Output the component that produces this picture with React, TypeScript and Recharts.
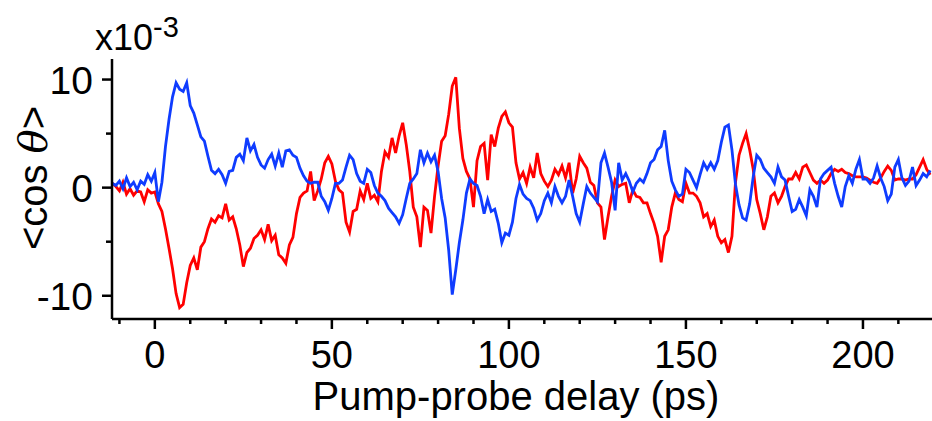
import { Customized, Label, Line, LineChart, XAxis, YAxis } from "recharts";

// pump-probe delay (ps)
const delay = [
  -12, -11, -10, -9, -8, -7, -6, -5, -4, -3,
  -2, -1, 0, 1, 2, 3, 4, 5, 6, 7,
  8, 9, 10, 11, 12, 13, 14, 15, 16, 17,
  18, 19, 20, 21, 22, 23, 24, 25, 26, 27,
  28, 29, 30, 31, 32, 33, 34, 35, 36, 37,
  38, 39, 40, 41, 42, 43, 44, 45, 46, 47,
  48, 49, 50, 51, 52, 53, 54, 55, 56, 57,
  58, 59, 60, 61, 62, 63, 64, 65, 66, 67,
  68, 69, 70, 71, 72, 73, 74, 75, 76, 77,
  78, 79, 80, 81, 82, 83, 84, 85, 86, 87,
  88, 89, 90, 91, 92, 93, 94, 95, 96, 97,
  98, 99, 100, 101, 102, 103, 104, 105, 106, 107,
  108, 109, 110, 111, 112, 113, 114, 115, 116, 117,
  118, 119, 120, 121, 122, 123, 124, 125, 126, 127,
  128, 129, 130, 131, 132, 133, 134, 135, 136, 137,
  138, 139, 140, 141, 142, 143, 144, 145, 146, 147,
  148, 149, 150, 151, 152, 153, 154, 155, 156, 157,
  158, 159, 160, 161, 162, 163, 164, 165, 166, 167,
  168, 169, 170, 171, 172, 173, 174, 175, 176, 177,
  178, 179, 180, 181, 182, 183, 184, 185, 186, 187,
  188, 189, 190, 191, 192, 193, 194, 195, 196, 197,
  198, 199, 200, 201, 202, 203, 204, 205, 206, 207,
  208, 209, 210, 211, 212, 213, 214, 215, 216, 217,
  218, 219,
];

// <cos θ> in units of 1e-3
const redTrace = [
  0.4, 0.1, -0.3, 0.5, -0.6, -0.1, -0.7, -0.3, -0.4, -1.3,
  -0.2, -0.5, -0.4, -1.5, -2.2, -3.8, -5.6, -7.5, -9.8, -11.1,
  -10.8, -8.8, -7.2, -6.5, -7.6, -5.5, -5.0, -3.8, -2.9, -3.2,
  -2.6, -2.8, -1.5, -3.0, -2.7, -3.8, -5.3, -7.3, -6.0, -5.6,
  -4.7, -4.4, -3.9, -4.8, -3.4, -4.9, -4.4, -6.2, -6.5, -7.0,
  -5.3, -4.6, -2.4, -0.9, -0.5, -0.3, 1.5, -1.2, -0.3, 0.8,
  2.3, 2.9, 2.2, 0.6, -0.2, -0.5, -3.2, -4.1, -2.2, -2.0,
  -0.3, -1.1, 0.4, -1.0, -0.7, -1.3, 1.5, 3.3, 2.8, 4.6,
  3.2, 4.8, 6.0, 4.0, 1.5, -1.8, -2.7, -5.5, -1.8, -2.1,
  -4.2, -0.8, 2.0, 4.3, 4.8, 6.8, 9.4, 10.2, 5.5, 2.7,
  1.5, 0.8, -1.8, 2.5, 3.8, 4.1, 0.7, 4.9, 3.8, 5.5,
  6.6, 7.0, 6.0, 5.6, 2.3, 0.8, 1.4, 0.4, 1.9, 0.9,
  3.2, 1.3, 0.6, 0.1, 0.7, 1.7, 1.2, 2.0, 0.9, 2.3,
  -0.5, 0.8, 2.9, 2.3, 1.8, 0.5, 0.2, -1.4, -1.8, -4.8,
  -2.7, -0.8, 0.7, 0.1, 0.3, 0.4, -1.4, -0.2, -0.8, -0.9,
  -1.4, -1.4, -2.4, -3.3, -4.5, -6.9, -4.5, -3.9, -1.8, -0.5,
  -1.1, -1.3, 0.4, -0.5, -0.5, -0.8, -1.4, -2.7, -2.4, -3.6,
  -3.0, -4.5, -5.1, -4.8, -6.0, -4.5, 0.5, 3.0, 4.1, 5.0,
  3.5, 1.7, -1.1, -2.4, -3.9, -2.7, -0.8, -0.5, -1.4, -0.8,
  0.1, 0.8, 0.8, 1.4, 0.8, 1.9, 2.1, 1.4, 0.7, 0.4,
  0.7, 0.4, 0.7, 1.3, 1.7, 1.5, 1.7, 1.4, 1.3, 1.1,
  1.0, 1.0, 1.0, 0.9, 0.7, 0.5, 0.4, 0.9, 1.5, 2.0,
  1.6, 0.7, 0.8, 0.8, 0.7, 0.8, 0.8, 1.2, 1.9, 2.6,
  1.7, 1.2,
];

const blueTrace = [
  0.4, 0.2, 0.6, -0.1, 0.9, 0.1, 0.5, -0.2, 0.6, 0.3,
  1.2, 0.6, 1.4, -1.3, 0.5, 3.8, 6.3, 8.4, 9.7, 9.1,
  8.9, 9.7, 7.6, 6.9, 5.8, 4.7, 4.3, 2.9, 1.6, 1.3,
  1.7, 1.2, 0.4, 1.5, 1.6, 2.8, 3.1, 2.5, 4.6, 3.4,
  4.0, 2.8, 2.1, 1.8, 2.6, 3.1, 2.0, 3.2, 1.9, 3.4,
  3.5, 3.0, 2.8, 1.8, 1.1, 0.6, 0.4, 0.5, 0.5, -0.8,
  -1.3, -2.1, -1.0, 0.4, 0.4, 0.7, 1.9, 3.0, 2.6, 1.3,
  0.6, 0.4, 1.7, 1.4, 0.2, -0.5, -0.8, -1.2, -1.9, -2.3,
  -2.7, -3.3, -2.5, -1.0, 0.4, 0.8, 1.3, 3.5, 2.3, 3.2,
  2.4, 3.0, 1.5, -1.0, -2.8, -5.8, -9.9, -7.6, -5.1, -3.0,
  -0.5, 0.8, 0.4, 0.2, -0.8, -2.4, -1.1, -2.2, -2.0, -3.3,
  -5.1, -4.2, -4.4, -3.2, -1.0, 0.3, -0.6, -1.0, -1.2, -1.9,
  -3.0, -2.4, -1.2, -0.5, -1.4, 0.1, -0.8, -1.4, -0.8, 0.7,
  -0.8, -2.4, -3.2, -1.5, 0.1, -0.5, -0.9, -1.3, 2.3, 3.2,
  1.9, 0.5, -2.1, 2.3, 0.7, 1.3, 0.6, -0.4, 0.4, 0.8,
  0.5, 1.3, 2.3, 2.6, 3.5, 3.8, 5.3, 2.5, 0.6, -0.2,
  -0.8, -0.6, 1.7, 1.4, 0.7, 0.0, 1.2, 2.3, 1.7, 2.3,
  1.7, 2.5, 4.2, 5.6, 5.8, 3.5, 0.3, -1.6, -2.8, -3.0,
  -1.5, 1.0, 3.0, 2.6, 1.8, 1.4, 1.0, 0.4, 1.9, 1.0,
  0.7, -0.8, -2.2, -2.0, -1.1, -1.8, -2.6, -0.2, -0.8, -1.8,
  0.8, 1.3, 1.6, 1.9, 0.4, -0.8, -1.8, 0.1, 1.1, 0.4,
  1.7, 2.6, 0.8, 0.8, 0.4, 0.9, 2.0, 0.9, 0.1, -1.2,
  -0.6, 1.9, 2.6, 0.9, 0.2, 0.6, 1.9, 0.2, 0.7, 1.3,
  1.0, 1.6,
];

const xTicks = [-10, 0, 10, 20, 30, 40, 50, 60, 70, 80, 90, 100, 110, 120, 130, 140, 150, 160, 170, 180, 190, 200, 210];
const xLabeled = [0, 50, 100, 150, 200];
const yTicks = [-10, -5, 0, 5, 10];
const yLabeled = [-10, 0, 10];

const data = delay.map((t, i) => ({ t, red: redTrace[i], blue: blueTrace[i] }));

const FONT = "'Liberation Sans', Arial, sans-serif";
const INK = "#000";

function XTick(props: any) {
  const { x, y, payload } = props;
  const major = xLabeled.includes(payload.value);
  return (
    <g>
      <line x1={x} x2={x} y1={y} y2={y + (major ? 10 : 5)} stroke={INK} strokeWidth={2.5} />
      {major && (
        <text x={x} y={y + 49} textAnchor="middle" fontSize={38} fontFamily={FONT} fill={INK}>
          {payload.value}
        </text>
      )}
    </g>
  );
}

function YTick(props: any) {
  const { x, y, payload } = props;
  const major = yLabeled.includes(payload.value);
  return (
    <g>
      <line x1={x} x2={x - (major ? 10 : 6)} y1={y} y2={y} stroke={INK} strokeWidth={2.5} />
      {major && (
        <text x={x - 19} y={y + 14} textAnchor="end" fontSize={39} fontFamily={FONT} fill={INK}>
          {payload.value}
        </text>
      )}
    </g>
  );
}

function Multiplier() {
  return (
    <text x={95} y={50} fontSize={36} fontFamily={FONT} fill={INK}>
      x10
      <tspan fontSize={29} dy={-13}>-3</tspan>
    </text>
  );
}

export default function App() {
  return (
    <div style={{ position: "absolute", left: 0, top: 0, background: "#fff" }}>
      <LineChart width={932} height={421} data={data} margin={{ top: 59, right: 0, bottom: 0, left: 0 }}>
        <XAxis
          dataKey="t"
          type="number"
          domain={[-12.1, 219.5]}
          ticks={xTicks}
          interval={0}
          allowDataOverflow
          height={102}
          tickSize={0}
          tickMargin={0}
          tickLine={false}
          axisLine={{ stroke: INK, strokeWidth: 2.5 }}
          tick={XTick}
        >
          <Label
            content={() => (
              <text x={516} y={410} textAnchor="middle" fontSize={40} fontFamily={FONT} fill={INK}>
                Pump-probe delay (ps)
              </text>
            )}
          />
        </XAxis>
        <YAxis
          type="number"
          domain={[-12.15, 11.9]}
          ticks={yTicks}
          interval={0}
          allowDataOverflow
          width={112}
          tickSize={0}
          tickMargin={0}
          tickLine={false}
          axisLine={{ stroke: INK, strokeWidth: 2.5 }}
          tick={YTick}
        >
          <Label
            content={() => (
              <text
                transform="translate(47,178) rotate(-90)"
                textAnchor="middle"
                fontSize={40}
                fontFamily={FONT}
                fill={INK}
              >
                {"<cos "}
                <tspan fontStyle="italic" fontFamily="'DejaVu Serif', serif">θ</tspan>
                {">"}
              </text>
            )}
          />
        </YAxis>
        <Customized component={Multiplier} />
        <Line
          dataKey="red"
          type="linear"
          stroke="#ff0000"
          strokeWidth={2.8}
          dot={false}
          isAnimationActive={false}
        />
        <Line
          dataKey="blue"
          type="linear"
          stroke="#0f3cff"
          strokeWidth={2.8}
          dot={false}
          isAnimationActive={false}
        />
      </LineChart>
    </div>
  );
}
